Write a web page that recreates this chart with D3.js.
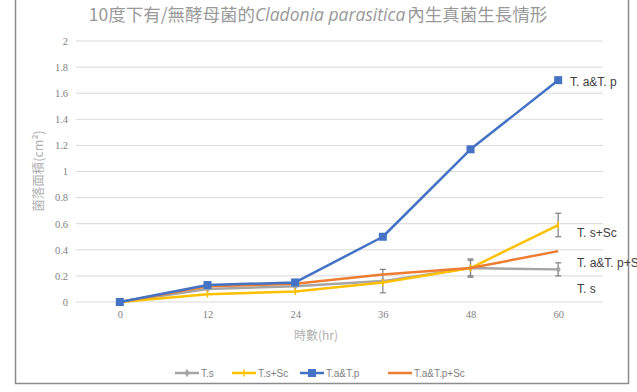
<!DOCTYPE html>
<html>
<head>
<meta charset="utf-8">
<script src="https://cdn.jsdelivr.net/npm/d3@7"></script>
<style>
  body { margin: 0; background: #fff; }
  text { font-family: "Noto Sans CJK TC", "Noto Sans", sans-serif; }
</style>
</head>
<body>
<div id="chart"></div>
<script>
// data
var hours = ["0", "12", "24", "36", "48", "60"];
var yTicks = [0, 0.2, 0.4, 0.6, 0.8, 1, 1.2, 1.4, 1.6, 1.8, 2];
var seriesNames = ["T.s", "T.s+Sc", "T.a&T.p", "T.a&T.p+Sc"];
var endLabels = ["T. s", "T. s+Sc", "T. a&T. p", "T. a&T. p+Sc"];
var ts = [0, 0.10, 0.12, 0.16, 0.26, 0.25];
var tsSc = [0, 0.06, 0.08, 0.15, 0.26, 0.59];
var tatp = [0, 0.13, 0.15, 0.50, 1.17, 1.70];
var tatpSc = [0, 0.12, 0.14, 0.21, 0.26, 0.39];
var tsErr = [0, 0, 0, 0.09, 0.07, 0.05];
var tsScErr = [0, 0, 0, 0, 0.06, 0.09];
var tatpErr = [0, 0, 0, 0, 0, 0];
var tatpScErr = [0, 0, 0, 0, 0, 0];

var colors = ["#a5a5a5", "#ffc000", "#4472c4", "#ed7d31"];
var markers = ["diamond", "cross", "square", "none"];
var allVals = [ts, tsSc, tatp, tatpSc];
var allErr = [tsErr, tsScErr, tatpErr, tatpScErr];
var labelY = [293, 237, 86, 267];

var W = 637, H = 392;
var svg = d3.select("#chart").append("svg")
    .attr("width", W)
    .attr("height", H);

// frame
svg.append("rect")
    .attr("x", 15.5).attr("y", -5)
    .attr("width", 613).attr("height", 388.5)
    .attr("fill", "none")
    .attr("stroke", "#8c8c8c")
    .attr("stroke-width", 1.5);

var x = d3.scalePoint().domain(hours).range([76, 602]).padding(0.5);
var y = d3.scaleLinear().domain([0, 2]).range([302, 41]);

// gridlines
svg.append("g").selectAll("line")
    .data(yTicks)
    .enter().append("line")
    .attr("x1", 76).attr("x2", 603)
    .attr("y1", function(d) { return y(d); })
    .attr("y2", function(d) { return y(d); })
    .attr("stroke", "#d9d9d9")
    .attr("stroke-width", 1);

// y axis labels
var yAxis = d3.axisLeft(y).tickValues(yTicks).tickSize(0).tickPadding(0)
    .tickFormat(function(d) { return d3.format("")(d); });
var gy = svg.append("g").attr("transform", "translate(68,0)").call(yAxis);
gy.select(".domain").remove();
gy.selectAll("text").attr("fill", "#7f7f7f").style("font-size", "10.5px")
    .style("font-family", "'Liberation Serif', serif");

// x axis labels
var xAxis = d3.axisBottom(x).tickSize(0).tickPadding(0);
var gx = svg.append("g").attr("transform", "translate(0,311)").call(xAxis);
gx.select(".domain").remove();
gx.selectAll("text").attr("fill", "#7f7f7f").style("font-size", "10.5px")
    .style("font-family", "'Liberation Serif', serif");

// title
var title = svg.append("text")
    .attr("x", 318).attr("y", 21)
    .attr("text-anchor", "middle")
    .attr("fill", "#999999")
    .style("font-size", "17.5px");
title.append("tspan").text("10度下有/無酵母菌的");
title.append("tspan").attr("font-style", "italic").style("font-family", "'Open Sans', sans-serif").text("Cladonia parasitica");
title.append("tspan").attr("dx", 2).text("內生真菌生長情形");

// axis titles
svg.append("text")
    .attr("transform", "translate(43,171) rotate(-90)")
    .attr("text-anchor", "middle")
    .attr("fill", "#b0b0b0")
    .style("font-size", "12.5px")
    .text("菌落面積(cm²)");

svg.append("text")
    .attr("x", 316).attr("y", 340)
    .attr("text-anchor", "middle")
    .attr("fill", "#b0b0b0")
    .style("font-size", "12px")
    .text("時數(hr)");

var line = d3.line()
    .x(function(d, i) { return x(hours[i]); })
    .y(function(d) { return y(d); });

// error bars
allVals.forEach(function(vals, s) {
    var g = svg.append("g");
    vals.forEach(function(v, i) {
        var e = allErr[s][i];
        if (!e) return;
        var cx = x(hours[i]);
        g.append("line").attr("x1", cx).attr("x2", cx)
            .attr("y1", y(v - e)).attr("y2", y(v + e))
            .attr("stroke", "#7f7f7f").attr("stroke-width", 1.2);
        [v - e, v + e].forEach(function(t) {
            g.append("line").attr("x1", cx - 3).attr("x2", cx + 3)
                .attr("y1", y(t)).attr("y2", y(t))
                .attr("stroke", "#7f7f7f").attr("stroke-width", 1.2);
        });
    });
});

function drawMarker(g, kind, cx, cy, col) {
    if (kind == "square") {
        g.append("rect").attr("x", cx - 4).attr("y", cy - 4)
            .attr("width", 8).attr("height", 8).attr("fill", col);
    } else if (kind == "diamond") {
        g.append("path").attr("d", d3.symbol(d3.symbolDiamond, 22)())
            .attr("transform", "translate(" + cx + "," + cy + ")").attr("fill", col);
    } else if (kind == "cross") {
        g.append("line").attr("x1", cx).attr("x2", cx).attr("y1", cy - 3.5).attr("y2", cy + 3.5)
            .attr("stroke", col).attr("stroke-width", 1.5);
    }
}

// series lines, drawn grey first and blue on top
[0, 1, 3, 2].forEach(function(s) {
    var g = svg.append("g");
    g.append("path")
        .datum(allVals[s])
        .attr("d", line)
        .attr("fill", "none")
        .attr("stroke", colors[s])
        .attr("stroke-width", 2.5)
        .attr("stroke-linejoin", "round");
    allVals[s].forEach(function(v, i) {
        drawMarker(g, markers[s], x(hours[i]), y(v), colors[s]);
    });
});

// end labels
endLabels.forEach(function(t, s) {
    svg.append("text")
        .attr("x", s == 2 ? 570 : 577).attr("y", labelY[s])
        .attr("fill", "#404040")
        .style("font-size", "12px")
        .style("font-family", "'Liberation Sans', Arial, sans-serif")
        .text(t);
});

// legend
var legX = [175, 232, 300, 388];
seriesNames.forEach(function(n, s) {
    var g = svg.append("g").attr("transform", "translate(" + legX[s] + ",373)");
    g.append("line").attr("x1", 0).attr("x2", 24).attr("y1", 0).attr("y2", 0)
        .attr("stroke", colors[s]).attr("stroke-width", 2.5);
    drawMarker(g, markers[s], 12, 0, colors[s]);
    g.append("text").attr("x", 26).attr("y", 3.5)
        .attr("fill", "#7f7f7f")
        .style("font-size", "10px")
        .style("font-family", "'Liberation Sans Narrow', 'Liberation Sans', Arial, sans-serif")
        .text(n);
});
</script>
</body>
</html>
